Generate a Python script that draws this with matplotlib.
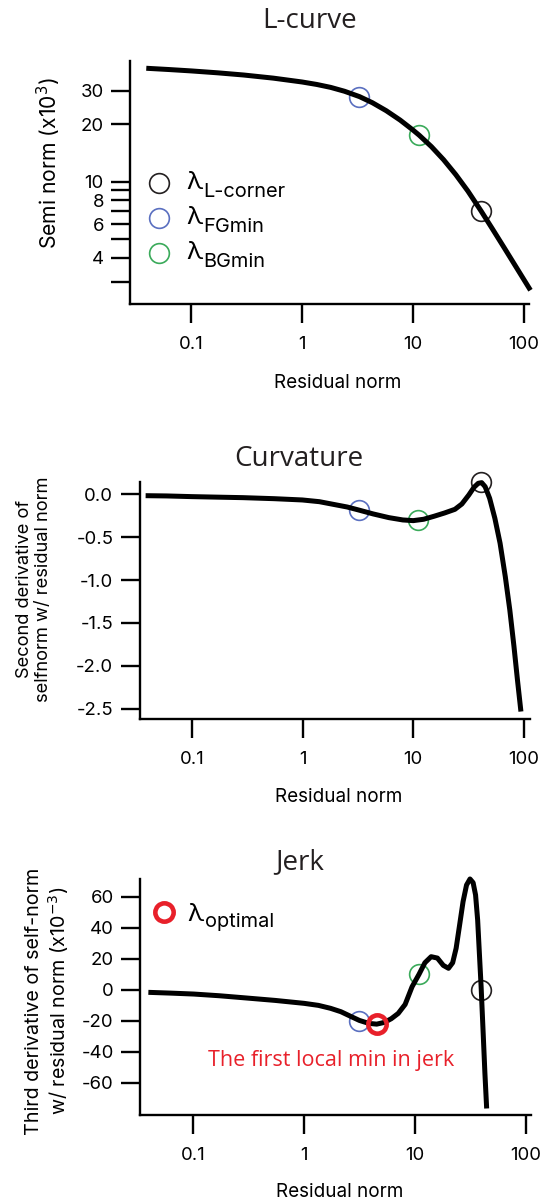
import matplotlib
matplotlib.use("Agg")
import matplotlib.pyplot as plt
from matplotlib.ticker import FixedLocator, FixedFormatter, NullLocator

W, H = 545, 1203
plt.rcParams["font.family"] = ["Inter", "DejaVu Sans"]
plt.rcParams["axes.unicode_minus"] = False

# ---- L-curve: semi norm (x10^3) against residual norm ----
lcurve_resid = [0.0393, 0.0630, 0.1007, 0.173, 0.297, 0.549, 1.0, 1.354, 1.807,
                2.412, 3.29, 4.30, 5.74, 7.66, 10.0, 11.39, 14.66, 18.87, 24.3,
                31.28, 41.15, 51.85, 66.76, 85.97, 114.7]
lcurve_semi = [39.30, 38.70, 38.05, 37.20, 36.23, 34.89, 33.30, 32.33, 31.21,
               29.78, 27.92, 25.94, 23.55, 21.03, 18.65, 17.51, 15.27, 13.04,
               10.90, 8.93, 7.02, 5.68, 4.49, 3.54, 2.70]

# ---- curvature (second derivative) ----
curv_resid = [0.0379, 0.0585, 0.0993, 0.167, 0.288, 0.552, 0.993, 1.416, 1.891,
              2.526, 3.209, 4.348, 6.025, 8.049, 10.0, 12.43, 15.44, 19.19,
              23.85, 27.56, 31.85, 35.51, 38.73, 41.64, 44.76, 49.18, 54.83,
              61.12, 68.13, 74.84, 81.64, 87.77, 94.36]
curv_value = [-0.016, -0.019, -0.027, -0.033, -0.039, -0.051, -0.066, -0.086,
              -0.117, -0.148, -0.183, -0.229, -0.272, -0.299, -0.307, -0.291,
              -0.256, -0.218, -0.175, -0.113, -0.008, 0.082, 0.128, 0.136,
              0.089, -0.047, -0.280, -0.571, -0.960, -1.348, -1.775, -2.164,
              -2.533]

# ---- jerk (third derivative, x10^-3) ----
jerk_resid = [0.0393, 0.0628, 0.101, 0.172, 0.285, 0.546, 1.0, 1.344, 1.729,
              2.147, 2.666, 3.146, 3.821, 4.510, 5.284, 6.107, 7.052, 8.143,
              9.406, 10.86, 12.28, 13.98, 15.92, 17.99, 20.05, 21.86, 23.49,
              25.25, 27.13, 29.16, 31.34, 33.44, 35.18, 36.73, 38.08, 39.48,
              41.21, 42.72, 44.30]
jerk_value = [-1.7, -2.2, -2.8, -3.9, -5.2, -6.9, -8.8, -10.1, -12.0, -14.2,
              -17.4, -19.8, -21.7, -22.2, -21.1, -18.7, -15.3, -9.5, 1.9, 9.9,
              17.4, 21.3, 20.4, 15.7, 13.8, 17.4, 26.7, 41.7, 56.8, 67.5, 71.4,
              69.0, 61.1, 45.0, 23.4, 1.9, -28.2, -54.0, -76.6]

# ---- selected regularisation parameters ----
lam_names = ["L-corner", "FGmin", "BGmin"]
lam_colors = ["#231f20", "#5a6fc0", "#3aaa5a"]
lam_lcurve_resid = [41.1, 3.29, 11.4]
lam_lcurve_semi = [7.06, 27.9, 17.6]
lam_curv_resid = [41.0, 3.22, 11.1]
lam_curv_value = [0.147, -0.183, -0.30]
lam_jerk_resid = [39.5, 3.15, 10.8]
lam_jerk_value = [0.0, -20.2, 9.9]
opt_resid = [4.53]
opt_jerk = [-22.1]
opt_color = "#e8202a"

xticks = [0.1, 1, 10, 100]
xticklabels = ["0.1", "1", "10", "100"]
lcurve_yticks = [3, 4, 5, 6, 7, 8, 9, 10, 20, 30]
lcurve_yticklabels = ["", "4", "", "6", "", "8", "", "10", "20", "30"]
curv_yticks = [0.0, -0.5, -1.0, -1.5, -2.0, -2.5]
curv_yticklabels = ["0.0", "-0.5", "-1.0", "-1.5", "-2.0", "-2.5"]
jerk_yticks = [60, 40, 20, 0, -20, -40, -60]
jerk_yticklabels = ["60", "40", "20", "0", "-20", "-40", "-60"]

TICK_FS = 13.4
XLABEL_FS = 13.6
TITLE_FONT = ["Open Sans", "DejaVu Sans"]
INK = "#231f20"
CURVE_LW = 3.6


def fx(px):
    return px / W


def fy(py):
    return 1 - py / H


fig = plt.figure(figsize=(W / 100, H / 100), dpi=100)


def style_axes(ax, yticks, yticklabels):
    for s in ["top", "right"]:
        ax.spines[s].set_visible(False)
    for s in ["left", "bottom"]:
        ax.spines[s].set_linewidth(1.7)
    ax.set_xscale("log")
    ax.xaxis.set_major_locator(FixedLocator(xticks))
    ax.xaxis.set_major_formatter(FixedFormatter(xticklabels))
    ax.xaxis.set_minor_locator(NullLocator())
    ax.yaxis.set_major_locator(FixedLocator(yticks))
    ax.yaxis.set_major_formatter(FixedFormatter(yticklabels))
    ax.yaxis.set_minor_locator(NullLocator())
    ax.tick_params(axis="both", which="major", direction="out", length=14,
                   width=1.7, labelsize=TICK_FS, labelcolor="black")
    ax.tick_params(axis="x", pad=9)
    ax.tick_params(axis="y", pad=5)
    ax.set_facecolor("none")


def place_labels(ax, xlabel, xcoords, ylabel, ycoords, ylabel_fs,
                 linespacing=1.15):
    ax.set_xlabel(xlabel, fontsize=XLABEL_FS, va="center", ha="center")
    ax.xaxis.set_label_coords(*xcoords)
    ax.set_ylabel(ylabel, fontsize=ylabel_fs, va="center", ha="center",
                  linespacing=linespacing)
    ax.yaxis.set_label_coords(*ycoords)


def draw_curve(ax, xs, ys):
    ax.plot(xs, ys, color="black", lw=CURVE_LW, solid_capstyle="butt",
            solid_joinstyle="round", zorder=3, clip_on=False)


def draw_lambda_marks(ax, xs, ys):
    for xr, yv, c in zip(xs, ys, lam_colors):
        ax.plot([xr], [yv], marker="o", ms=14.2, mfc="none", mec=c, mew=1.2,
                ls="none", zorder=2, clip_on=False)


# ================= L-curve =================
ax1 = fig.add_axes([fx(130.3), fy(304), (529.4 - 130.3) / W, 243 / H])
ax1.set_yscale("log")
ax1.set_xlim(0.0282, 112.2)
ax1.set_ylim(2.287, 42.9)
style_axes(ax1, lcurve_yticks, lcurve_yticklabels)
draw_lambda_marks(ax1, lam_lcurve_resid, lam_lcurve_semi)
draw_curve(ax1, lcurve_resid, lcurve_semi)
place_labels(ax1, "Residual norm", (0.52, -0.325),
             "Semi norm (x10$^{3}$)", (-0.2045, 0.58), 15.2)

# legend for the three lambda choices
for i, (name, c) in enumerate(zip(lam_names, lam_colors)):
    cy = 183.3 + 35 * i
    fig.lines.append(plt.Line2D([fx(159.2)], [fy(cy)], marker="o", ms=14.2,
                                mfc="none", mec=c, mew=1.2, ls="none",
                                transform=fig.transFigure))
    fig.text(fx(186.7), fy(cy + 6.2), "λ", fontsize=18.5, va="baseline",
             ha="left", color="black")
    fig.text(fx(203.5), fy(cy + 14.0), name, fontsize=14.4, va="baseline",
             ha="left", color="black")

fig.text(fx(310), fy(28.5), "L-curve", fontsize=20, family=TITLE_FONT,
         color=INK, ha="center", va="baseline")

# ================= Curvature =================
ax2 = fig.add_axes([fx(139.7), fy(719), (530 - 139.7) / W, 237.3 / H])
ax2.set_xlim(0.0335, 114)
ax2.set_ylim(-2.62, 0.147)
style_axes(ax2, curv_yticks, curv_yticklabels)
draw_lambda_marks(ax2, lam_curv_resid, lam_curv_value)
draw_curve(ax2, curv_resid, curv_value)
place_labels(ax2, "Residual norm", (0.51, -0.327),
             "Second derivative of\nselfnorm w/ residual norm",
             (-0.2713, 0.548), 13.2)
fig.text(fx(299), fy(465.5), "Curvature", fontsize=20, family=TITLE_FONT,
         color=INK, ha="center", va="baseline")

# ================= Jerk =================
ax3 = fig.add_axes([fx(140.1), fy(1115), (531.1 - 140.1) / W, 235.7 / H])
ax3.set_xlim(0.0331, 111.5)
ax3.set_ylim(-80.8, 71.2)
style_axes(ax3, jerk_yticks, jerk_yticklabels)
draw_lambda_marks(ax3, lam_jerk_resid, lam_jerk_value)
draw_curve(ax3, jerk_resid, jerk_value)
ax3.plot(opt_resid, opt_jerk, marker="o", ms=13.2, mfc="none", mec=opt_color,
         mew=3.3, ls="none", zorder=4, clip_on=False)
place_labels(ax3, "Residual norm", (0.511, -0.325),
             "Third derivative of self-norm\nw/ residual norm (x10$^{-3}$)",
             (-0.236, 0.484), 14.2)
fig.text(fx(300), fy(869.3), "Jerk", fontsize=20, family=TITLE_FONT,
         color=INK, ha="center", va="baseline")

# legend for the optimal lambda
fig.lines.append(plt.Line2D([fx(164)], [fy(911.7)], marker="o", ms=13.2,
                            mfc="none", mec=opt_color, mew=3.3, ls="none",
                            transform=fig.transFigure))
fig.text(fx(187.7), fy(921), "λ", fontsize=18.5, va="baseline", ha="left",
         color="black")
fig.text(fx(205), fy(926.7), "optimal", fontsize=14.4, va="baseline",
         ha="left", color="black")

fig.text(fx(330.7), fy(1066), "The first local min in jerk", fontsize=15.5,
         family=TITLE_FONT, color=opt_color, ha="center", va="baseline")

fig.savefig("out.png", dpi=100)
